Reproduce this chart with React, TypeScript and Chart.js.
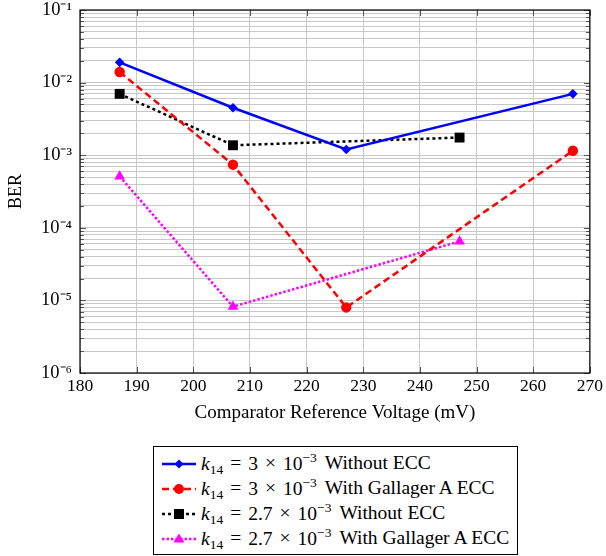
import React, { useEffect, useRef } from 'react';
import { Chart, registerables } from 'chart.js';
Chart.register(...registerables);

// ---- data ----
const xTickValues = [180, 190, 200, 210, 220, 230, 240, 250, 260, 270];
const yDecades = [-6, -5, -4, -3, -2, -1];

const blueX = [187, 207, 227, 267];
const blueY = [1.9e-2, 4.5e-3, 1.2e-3, 7.0e-3];
const redX = [187, 207, 227, 267];
const redY = [1.4e-2, 7.4e-4, 8.0e-6, 1.15e-3];
const blackX = [187, 207, 247];
const blackY = [7.0e-3, 1.37e-3, 1.75e-3];
const magentaX = [187, 207, 247];
const magentaY = [5.1e-4, 8.2e-6, 6.5e-5];

const legendCoeffs = ['3', '3', '2.7', '2.7'];
const legendSuffix = ['Without ECC', 'With Gallager A ECC', 'Without ECC', 'With Gallager A ECC'];

const FONT = "'Liberation Serif', 'Times New Roman', serif";
const SUP: Record<string, string> = { '-': '⁻', '0': '⁰', '1': '¹', '2': '²', '3': '³', '4': '⁴', '5': '⁵', '6': '⁶', '7': '⁷', '8': '⁸', '9': '⁹' };
const supStr = (s: string) => s.split('').map((c) => SUP[c] ?? c).join('');

const pts = (xs: number[], ys: number[]) => xs.map((x, i) => ({ x, y: ys[i] }));

const seriesStyles = [
  { color: '#0000ff', dash: [] as number[], point: 'rectRot', radius: 4.8 },
  { color: '#ff0000', dash: [7, 4], point: 'circle', radius: 5.2 },
  { color: '#000000', dash: [3, 3], point: 'rect', radius: 7 },
  { color: '#ff00ff', dash: [2.5, 2], point: 'triangle', radius: 6.2 },
];

const framePlugin = {
  id: 'frame',
  beforeDatasetsDraw(chart: any) {
    const { ctx, chartArea: a, scales } = chart;
    ctx.save();
    ctx.strokeStyle = '#555';
    ctx.lineWidth = 1;
    const ys = scales.y;
    ys.ticks.forEach((t: any) => {
      const py = Math.round(ys.getPixelForValue(t.value)) + 0.5;
      const major = Math.abs(Math.log10(t.value) - Math.round(Math.log10(t.value))) < 1e-6;
      const len = major ? 6 : 4;
      ctx.beginPath();
      ctx.moveTo(a.left, py);
      ctx.lineTo(a.left + len, py);
      ctx.moveTo(a.right, py);
      ctx.lineTo(a.right - len, py);
      ctx.stroke();
    });
    const xs = scales.x;
    xs.ticks.forEach((t: any) => {
      const px = Math.round(xs.getPixelForValue(t.value)) + 0.5;
      ctx.beginPath();
      ctx.moveTo(px, a.bottom);
      ctx.lineTo(px, a.bottom - 6);
      ctx.moveTo(px, a.top);
      ctx.lineTo(px, a.top + 6);
      ctx.stroke();
    });
    ctx.strokeStyle = '#000';
    ctx.lineWidth = 1.2;
    ctx.strokeRect(a.left, a.top, a.right - a.left, a.bottom - a.top);
    ctx.restore();
  },
};

function LegendSample({ idx }: { idx: number }) {
  const s = seriesStyles[idx];
  const c = s.color;
  let marker: React.ReactNode = null;
  if (s.point === 'rectRot') marker = <polygon points="18,3.5 22.5,8 18,12.5 13.5,8" fill={c} />;
  if (s.point === 'circle') marker = <circle cx={18} cy={8} r={5} fill={c} />;
  if (s.point === 'rect') marker = <rect x={13} y={3} width={10} height={10} fill={c} />;
  if (s.point === 'triangle') marker = <polygon points="18,2.5 23.5,11.5 12.5,11.5" fill={c} />;
  return (
    <svg width={36} height={16} style={{ display: 'block' }}>
      <line x1={1} y1={8} x2={35} y2={8} stroke={c} strokeWidth={2.5} strokeDasharray={s.dash.length ? s.dash.join(' ') : undefined} />
      {marker}
    </svg>
  );
}

export default function App() {
  const ref = useRef<HTMLCanvasElement>(null);

  useEffect(() => {
    if (!ref.current) return;
    const data = [pts(blueX, blueY), pts(redX, redY), pts(blackX, blackY), pts(magentaX, magentaY)];
    const chart = new Chart(ref.current, {
      type: 'line',
      data: {
        datasets: data.map((d, i) => ({
          label: `k14 = ${legendCoeffs[i]} × 10⁻³ ${legendSuffix[i]}`,
          data: d,
          borderColor: seriesStyles[i].color,
          backgroundColor: seriesStyles[i].color,
          borderWidth: 2.5,
          borderDash: seriesStyles[i].dash,
          borderCapStyle: 'butt',
          pointStyle: seriesStyles[i].point as any,
          pointRadius: seriesStyles[i].radius,
          pointBorderWidth: 0,
          tension: 0,
          fill: false,
        })),
      },
      options: {
        animation: false,
        responsive: false,
        layout: { padding: { top: 10, right: 15, left: 0, bottom: 0 } },
        plugins: { legend: { display: false }, tooltip: { enabled: false } },
        scales: {
          x: {
            type: 'linear',
            min: 180,
            max: 270,
            afterBuildTicks: (s: any) => {
              s.ticks = xTickValues.map((v) => ({ value: v }));
            },
            afterFit: (s: any) => {
              s.height = 67;
            },
            grid: { color: '#c8c8c8', lineWidth: 1, drawTicks: false },
            border: { display: false },
            ticks: { color: '#000', font: { family: FONT, size: 17.5 }, padding: 3, maxRotation: 0, autoSkip: false },
            title: {
              display: true,
              text: 'Comparator Reference Voltage (mV)',
              color: '#000',
              font: { family: FONT, size: 19 },
              padding: { top: 0, bottom: 16 },
            },
          },
          y: {
            type: 'logarithmic',
            min: 1e-6,
            max: 1e-1,
            afterBuildTicks: (s: any) => {
              const t: any[] = [];
              yDecades.forEach((e) => {
                if (e === -1) {
                  t.push({ value: Math.pow(10, e) });
                } else {
                  for (let m = 1; m <= 9; m++) t.push({ value: m * Math.pow(10, e) });
                }
              });
              s.ticks = t;
            },
            afterFit: (s: any) => {
              s.width = 80;
              s.paddingTop = 0;
              s.paddingBottom = 0;
            },
            grid: { color: '#c8c8c8', lineWidth: 1, drawTicks: false },
            border: { display: false },
            ticks: {
              color: '#000',
              font: { family: FONT, size: 18.5 },
              padding: 8,
              autoSkip: false,
              callback: (v: any) => {
                const lg = Math.log10(Number(v));
                if (Math.abs(lg - Math.round(lg)) < 1e-6) return '10' + supStr(String(Math.round(lg)));
                return '';
              },
            },
            title: {
              display: true,
              text: 'BER',
              color: '#000',
              font: { family: FONT, size: 18 },
              padding: { top: 5, bottom: 0 },
            },
          },
        },
      },
      plugins: [framePlugin],
    });
    return () => chart.destroy();
  }, []);

  const op = { margin: '0 7px' };
  return (
    <div style={{ position: 'absolute', left: 0, top: 0, width: 606, height: 556, background: '#fff' }}>
      <canvas ref={ref} width={606} height={440} style={{ display: 'block' }} />
      <div
        style={{
          position: 'absolute',
          left: 153,
          top: 446,
          width: 365,
          height: 109,
          boxSizing: 'border-box',
          border: '1px solid #000',
          paddingTop: 4,
          fontFamily: FONT,
          fontSize: 19.5,
          color: '#000',
        }}
      >
        {legendCoeffs.map((c, i) => (
          <div key={i} style={{ display: 'flex', alignItems: 'center', height: 25, paddingLeft: 7 }}>
            <LegendSample idx={i} />
            <span style={{ marginLeft: 4, whiteSpace: 'nowrap', lineHeight: '25px' }}>
              <i>k</i>
              <sub style={{ fontSize: 13.5 }}>14</sub>
              <span style={op}>=</span>
              {c}
              <span style={op}>×</span>10
              <sup style={{ fontSize: 13.5 }}>−3</sup>
              <span style={{ marginLeft: 8 }}>{legendSuffix[i]}</span>
            </span>
          </div>
        ))}
      </div>
    </div>
  );
}
